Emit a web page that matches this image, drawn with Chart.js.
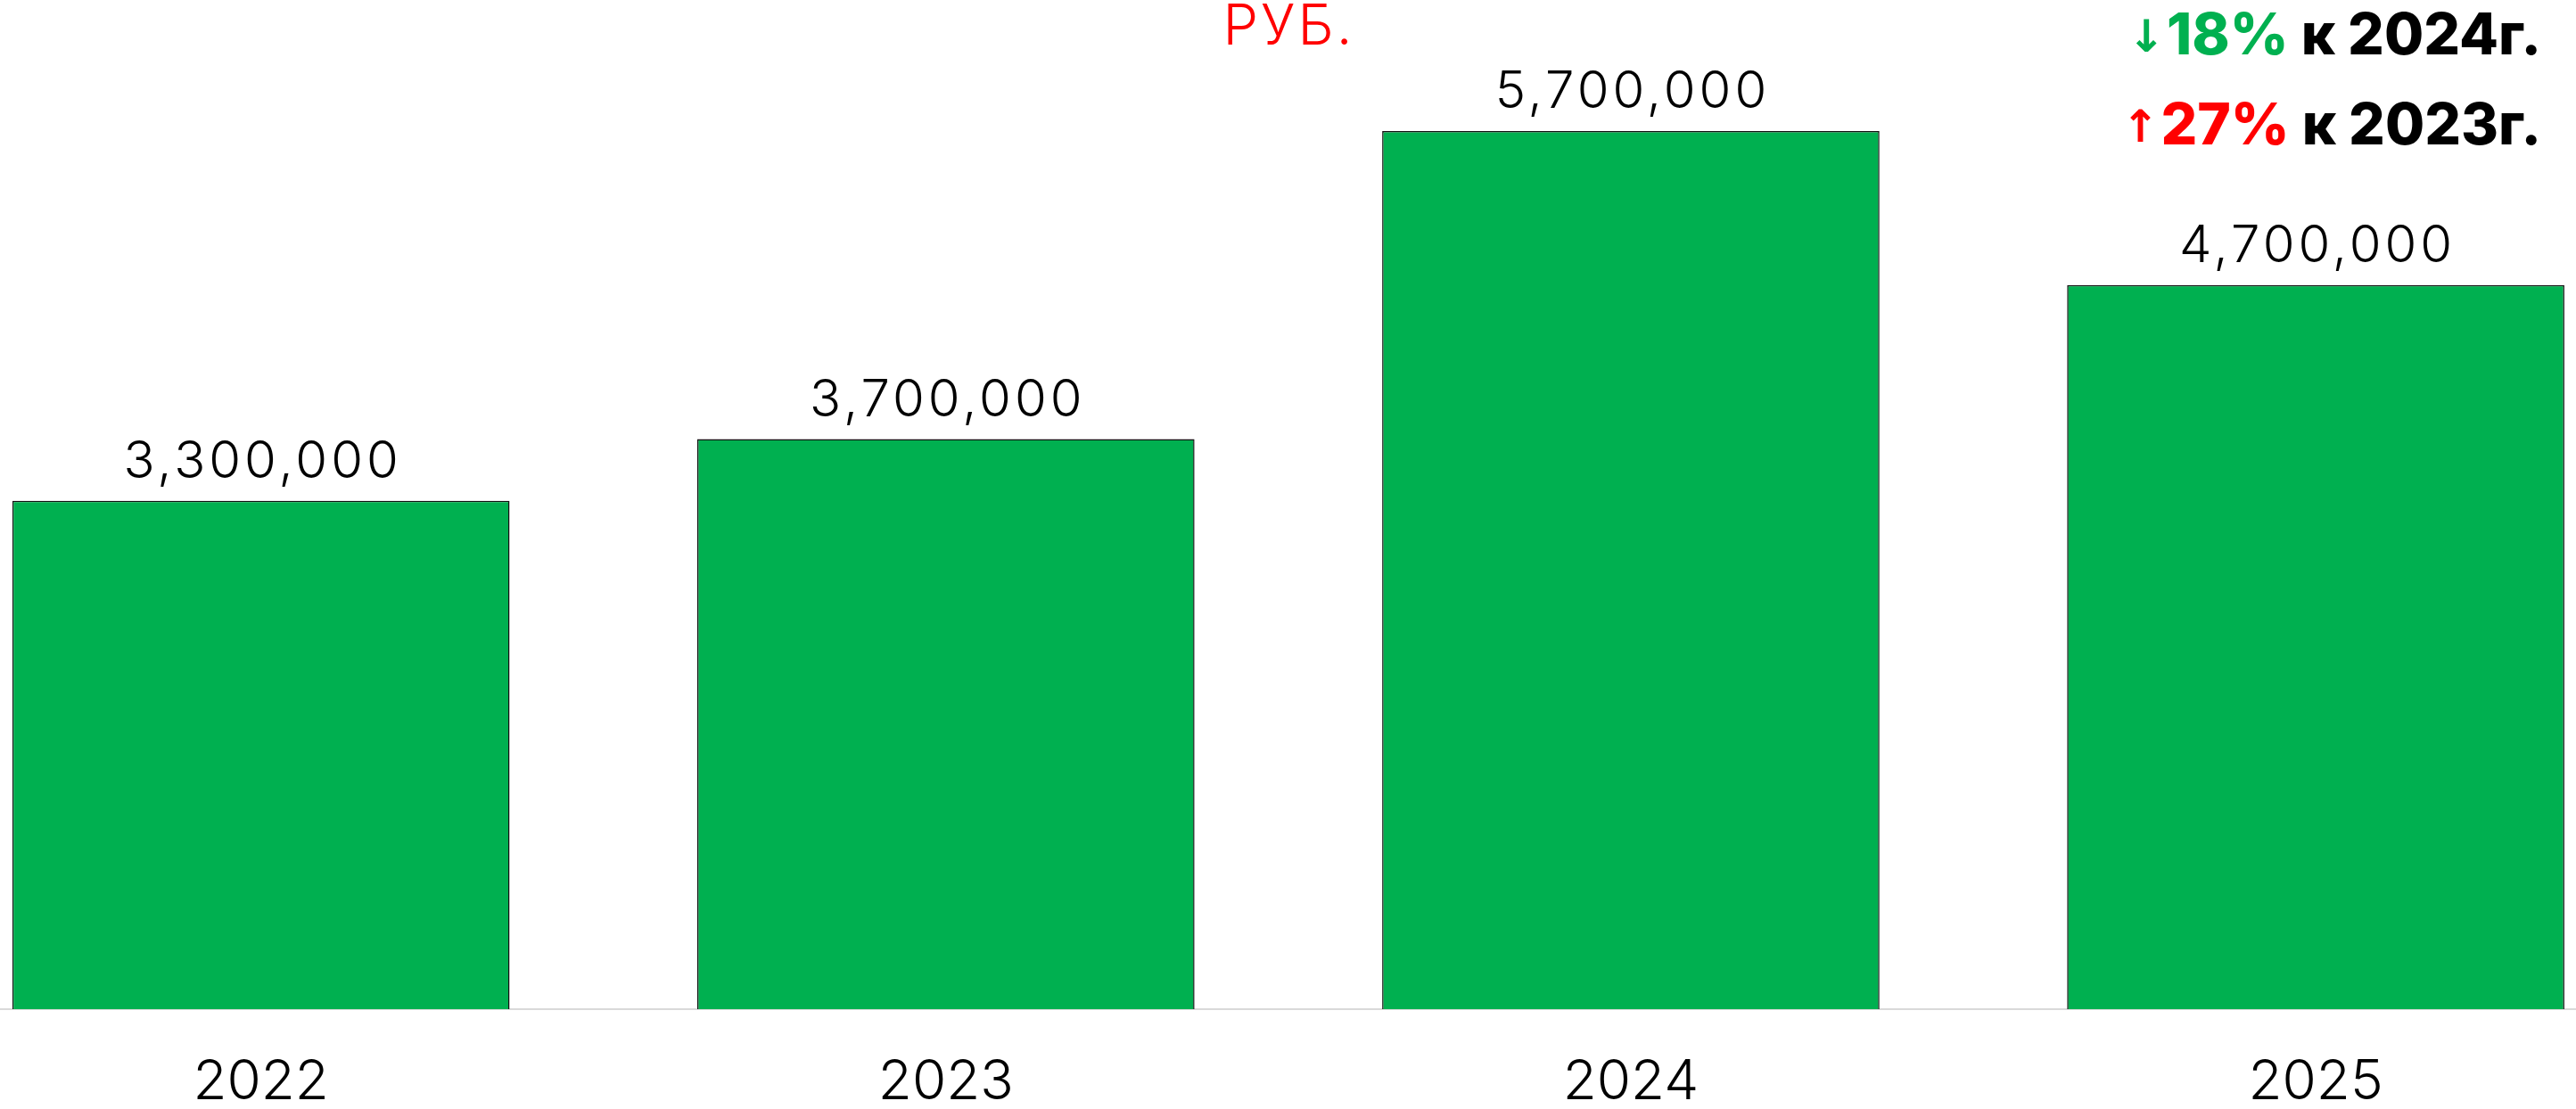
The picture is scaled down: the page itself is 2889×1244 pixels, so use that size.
<!DOCTYPE html>
<html>
<head>
<meta charset="utf-8">
<script src="https://cdn.jsdelivr.net/npm/chart.js@4/dist/chart.umd.min.js"></script>
<style>
  html, body { margin: 0; padding: 0; background: #fff; }
  #wrap { width: 2889px; height: 1244px; position: relative; }
</style>
</head>
<body>
<div id="wrap"><canvas id="revenueChart"></canvas></div>
<script>
const years = ["2022", "2023", "2024", "2025"];
const revenue = [3300000, 3700000, 5700000, 4700000];
const unitLabel = "РУБ.";
const changePct = [-18, 27];
const changeVsYear = ["2024", "2023"];

const GREEN = "#00b050";
const RED = "#ff0000";
const LIGHT = "Inter, 'Noto Sans', sans-serif";
const BOLD = "Inter, 'Liberation Sans', sans-serif";

// value labels above bars + unit title + yoy notes
const labelsPlugin = {
  id: "labels",
  afterDatasetsDraw(chart) {
    const ctx = chart.ctx;
    const meta = chart.getDatasetMeta(0);
    ctx.save();
    ctx.fillStyle = "#000";
    ctx.font = "300 58px " + LIGHT;
    ctx.letterSpacing = "4px";
    ctx.textAlign = "center";
    ctx.textBaseline = "alphabetic";
    meta.data.forEach((bar, i) => {
      ctx.fillText(revenue[i].toLocaleString("en-US"), bar.x + 2, bar.y - 26);
    });

    // unit
    ctx.fillStyle = RED;
    ctx.font = "300 63px " + LIGHT;
    ctx.letterSpacing = "3px";
    ctx.fillText(unitLabel, chart.width / 2 + 1, 50);
    ctx.letterSpacing = "0px";

    // yoy changes, right aligned
    ctx.textAlign = "left";
    const right = chart.width - 39;
    changePct.forEach((p, i) => {
      const baseY = 61 + i * 101;
      const col = p < 0 ? GREEN : RED;
      const parts = [
        { t: p < 0 ? "↓" : "↑", f: "bold 50px 'DejaVu Sans'", c: col, gap: 2 },
        { t: Math.abs(p) + "%", f: "800 64px " + BOLD, c: col, gap: 0 },
        { t: " к " + changeVsYear[i] + "г.", f: "800 64px " + BOLD, c: "#000", gap: 0 },
      ];
      let total = 0;
      parts.forEach(pt => { ctx.font = pt.f; pt.w = ctx.measureText(pt.t).width; total += pt.w + pt.gap; });
      let x = right - total;
      parts.forEach(pt => {
        ctx.font = pt.f;
        ctx.fillStyle = pt.c;
        ctx.fillText(pt.t, x, pt.t.length === 1 ? baseY - 3 : baseY);
        x += pt.w + pt.gap;
      });
    });
    ctx.restore();
  }
};

new Chart(document.getElementById("revenueChart").getContext("2d"), {
  type: "bar",
  data: {
    datasets: [{
      data: years.map((y, i) => ({ x: i, y: revenue[i] })),
      backgroundColor: GREEN,
      borderColor: "#111",
      borderWidth: 1.5,
      barPercentage: 0.726,
      categoryPercentage: 1,
    }],
  },
  options: {
    responsive: true,
    maintainAspectRatio: false,
    animation: false,
    layout: { padding: 0 },
    plugins: {
      legend: { display: false },
      tooltip: { enabled: false },
      title: { display: false },
    },
    scales: {
      x: {
        type: "linear",
        offset: false,
        min: -0.381,
        max: 3.38,
        grid: { display: false, drawTicks: false },
        border: { display: true, color: "#d9d9d9", width: 2 },
        ticks: {
          stepSize: 1,
          includeBounds: false,
          maxRotation: 0,
          autoSkip: false,
          padding: 45,
          color: "#000",
          font: { family: LIGHT, size: 62, weight: "300" },
          callback: (v) => years[v] ?? "",
        },
        afterFit: (scale) => { scale.height = 112; },
      },
      y: {
        display: false,
        min: 0,
        max: 6550000,
      },
    },
  },
  plugins: [labelsPlugin],
});
</script>
</body>
</html>
